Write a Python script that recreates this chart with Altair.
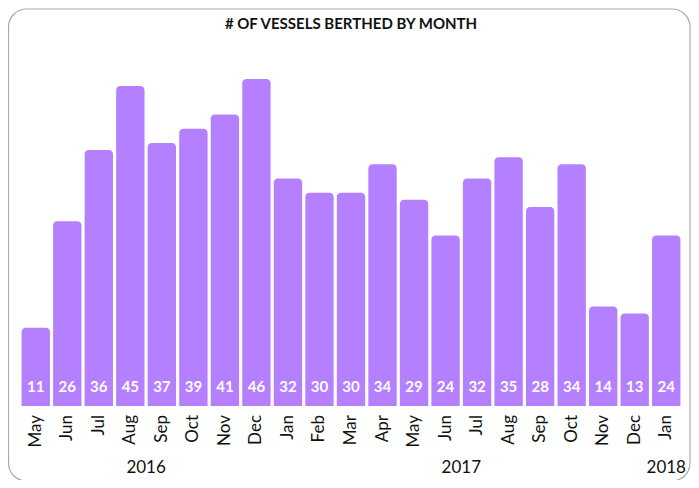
import altair as alt
import pandas as pd

months = ["May", "Jun", "Jul", "Aug", "Sep", "Oct", "Nov", "Dec",
          "Jan", "Feb", "Mar", "Apr", "May", "Jun", "Jul", "Aug", "Sep", "Oct", "Nov", "Dec",
          "Jan"]
vessels = [11, 26, 36, 45, 37, 39, 41, 46, 32, 30, 30, 34, 29, 24, 32, 35, 28, 34, 14, 13, 24]
years = ["2016", "2017", "2018"]
year_pos = [3.5, 13.5, 20]

W, H = 662, 327
FONT = "Lato"
COLOR = "#B580FF"

df = pd.DataFrame({"i": list(range(len(months))), "month": months, "n": vessels})
df["x0"] = df["i"] - 0.45
df["x1"] = df["i"] + 0.45
df["zero"] = 0
ydf = pd.DataFrame({"year": years, "pos": year_pos})

xscale = alt.Scale(domain=[-0.5, len(months) - 0.5], nice=False, zero=False)
yscale = alt.Scale(domain=[0, 46], nice=False)

bars = alt.Chart(df).mark_bar(color=COLOR, cornerRadiusTopLeft=4, cornerRadiusTopRight=4).encode(
    x=alt.X("x0:Q", scale=xscale, axis=None),
    x2="x1:Q",
    y=alt.Y("n:Q", scale=yscale, axis=None),
    y2="zero:Q",
)

labels = alt.Chart(df).mark_text(color="white", fontWeight="bold", font=FONT, fontSize=15,
                                 baseline="middle", dy=-19).encode(
    x=alt.X("i:Q", scale=xscale),
    y=alt.Y("zero:Q", scale=yscale),
    text="n:Q",
)

month_text = alt.Chart(df).mark_text(font=FONT, fontSize=17, color="#111", angle=270,
                                     align="right", baseline="middle").encode(
    x=alt.X("i:Q", scale=xscale),
    y=alt.value(H + 9),
    text="month:N",
)

year_text = alt.Chart(ydf).mark_text(font=FONT, fontSize=17, color="#111", baseline="middle").encode(
    x=alt.X("pos:Q", scale=xscale),
    y=alt.value(H + 62),
    text="year:N",
)

title = alt.Chart(pd.DataFrame({"t": ["# OF VESSELS BERTHED BY MONTH"]})).mark_text(
    font=FONT, fontSize=15, fontWeight="bold", color="#111", baseline="middle").encode(
    x=alt.value(W / 2), y=alt.value(-55), text="t:N")

frame = alt.Chart(pd.DataFrame({"a": [0]})).mark_rect(
    fill=None, stroke="#aaaaaa", strokeWidth=1.2, cornerRadius=18).encode(
    x=alt.value(-11.5), x2=alt.value(W + 8), y=alt.value(-70), y2=alt.value(H + 75))

chart = alt.layer(frame, bars, labels, month_text, year_text, title).properties(
    width=W, height=H,
    autosize=alt.AutoSizeParams(type="none"),
    padding={"left": 12, "top": 71, "right": 9, "bottom": 74},
).configure_view(stroke=None)

chart.save("out.html", embed_options={"renderer": "svg", "actions": False})
